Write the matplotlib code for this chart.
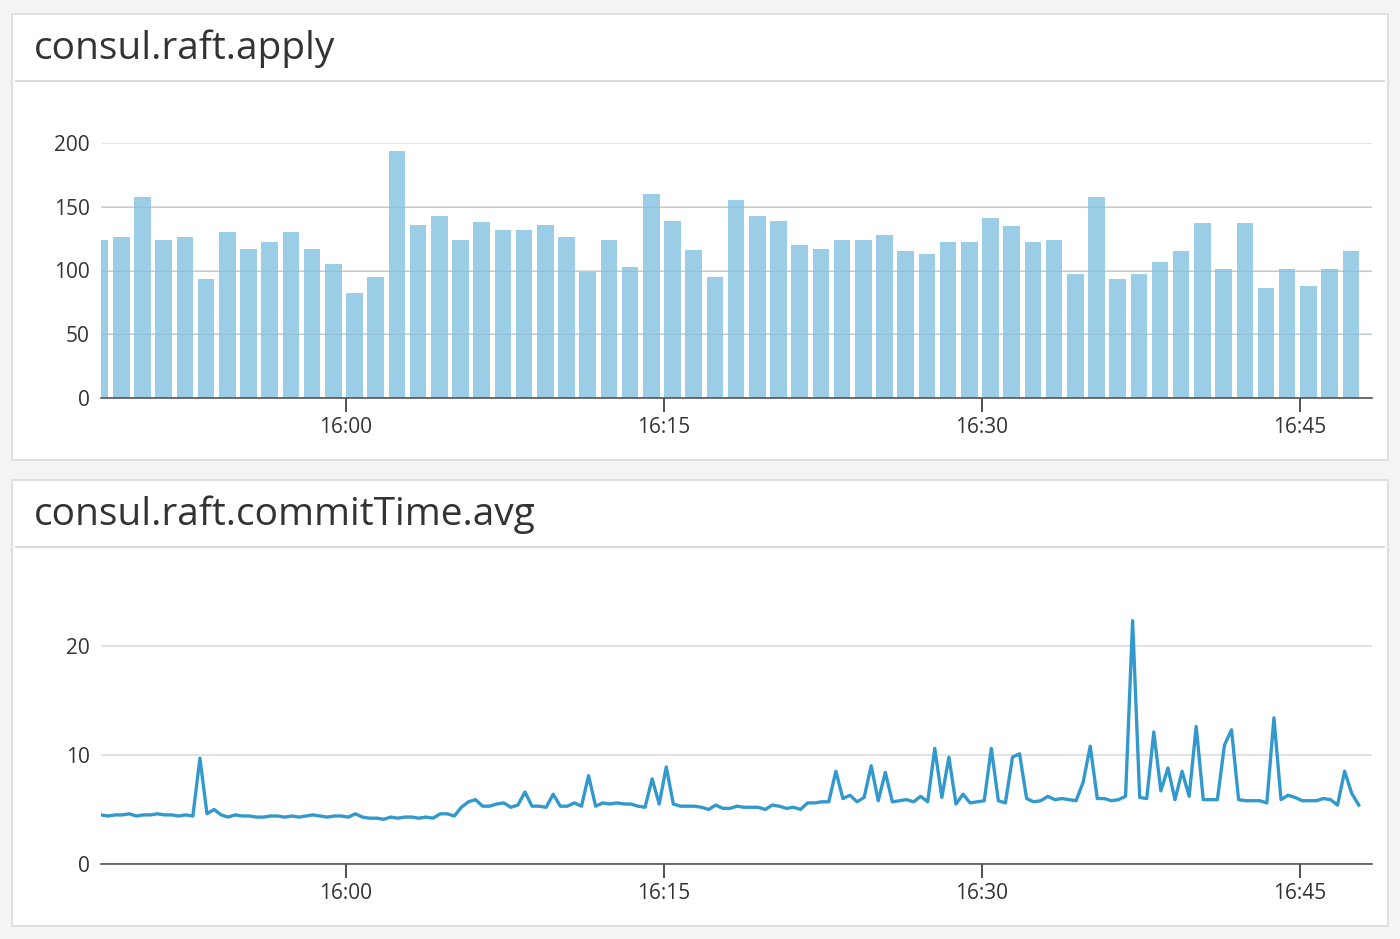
import matplotlib
matplotlib.use("Agg")
import matplotlib.pyplot as plt
from matplotlib.patches import Rectangle
from matplotlib.lines import Line2D
import numpy as np

plt.rcParams['font.family'] = ['Open Sans', 'DejaVu Sans']

titles = ["consul.raft.apply", "consul.raft.commitTime.avg"]
xtick_pos = [0, 15, 30, 45]
xtick_labels = ["16:00", "16:15", "16:30", "16:45"]

# bar chart: one bar per minute, minutes relative to 16:00
apply_start = -11.6
apply_values = [124,126,158,124,126,93,130,117,122,130,117,105,82,95,194,136,143,124,138,132,
                132,136,126,99,124,103,160,139,116,95,155,143,139,120,117,124,124,128,115,113,
                122,122,141,135,122,124,97,158,93,97,107,115,137,101,137,86,101,88,101,115]

# line chart: one point every 20 s
commit_start = -11.56
commit_values = [4.5,4.4,4.5,4.5,4.6,4.4,4.5,4.5,4.6,4.5,4.5,4.4,4.5,4.4,
                 9.7,4.6,5.0,4.5,4.3,4.5,4.4,4.4,4.3,4.3,4.4,4.4,4.3,4.4,4.3,
                 4.4,4.5,4.4,4.3,4.4,4.4,4.3,4.6,4.3,4.2,4.2,4.1,4.3,4.2,4.3,4.3,4.2,4.3,4.2,
                 4.6,4.6,4.4,5.2,5.7,5.9,5.3,5.3,5.5,5.6,5.2,5.4,6.6,5.3,5.3,5.2,6.4,5.3,5.3,
                 5.6,5.3,8.1,5.3,5.6,5.5,5.6,5.5,5.5,5.3,5.2,7.8,5.5,8.9,5.5,5.3,5.3,5.3,5.2,
                 5.0,5.4,5.1,5.1,5.3,5.2,5.2,5.2,5.0,5.4,5.3,5.1,5.2,5.0,5.6,5.6,5.7,5.7,8.5,
                 6.0,6.3,5.7,6.1,9.0,5.8,8.4,5.7,5.8,5.9,5.7,6.2,5.7,10.6,6.1,9.8,5.5,6.4,5.6,
                 5.7,5.8,10.6,5.8,5.6,9.8,10.1,6.0,5.7,5.8,6.2,5.9,6.0,5.9,5.8,7.5,10.8,6.0,
                 6.0,5.8,5.9,6.2,22.3,6.1,6.0,12.1,6.7,8.8,5.9,8.5,6.2,12.6,5.9,5.9,5.9,10.9,
                 12.3,5.9,5.8,5.8,5.8,5.6,13.4,5.9,6.3,6.1,5.8,5.8,5.8,6.0,5.9,5.4,8.5,6.5,5.4]

W, H = 1400, 939
fig = plt.figure(figsize=(14, 9.39), dpi=100)
fig.patch.set_facecolor('#f4f4f4')

def fx(px): return px / W
def fy(py): return 1 - py / H

panels = [(14, 460), (480, 926)]
for (top, bot), title in zip(panels, titles):
    fig.patches.append(Rectangle((fx(12), fy(bot)), fx(1376), (bot - top) / H,
                                 transform=fig.transFigure, facecolor='white',
                                 edgecolor='#e0e0e0', lw=1.5, zorder=-2))
    fig.lines.append(Line2D([fx(16), fx(1384)], [fy(top + 67)] * 2,
                            transform=fig.transFigure, color='#dcdcdc', lw=1.5,
                            zorder=-1))
    fig.text(fx(34), fy(top + 35), title, fontsize=28, color='#333333',
             va='center', ha='left')

def style(ax, ylim, yticks):
    ax.set_xlim(-11.56, 48.4)
    ax.set_ylim(*ylim)
    ax.set_facecolor('none')
    for s in ['top', 'right', 'left']:
        ax.spines[s].set_visible(False)
    ax.spines['bottom'].set_color('#555555')
    ax.spines['bottom'].set_linewidth(1.2)
    ax.set_yticks(yticks)
    ax.set_xticks(xtick_pos)
    ax.set_xticklabels(xtick_labels)
    ax.tick_params(axis='y', length=0, labelsize=15, labelcolor='#333333', pad=8)
    ax.tick_params(axis='x', length=10, width=1.2, color='#333333', labelsize=15,
                   labelcolor='#333333', pad=4)
    ax.grid(axis='y', color='#dddddd', lw=1.2)
    ax.set_axisbelow(True)

# top chart
ax1 = fig.add_axes([fx(101), fy(398), fx(1372 - 101), (398 - 143) / H])
ax1.set_zorder(2)
x1 = apply_start + np.arange(len(apply_values))
ax1.bar(x1, apply_values, width=0.78, color='#9ccde6', zorder=2)
style(ax1, (0, 200), [0, 50, 100, 150, 200])
for g in [50, 100, 150]:
    ax1.axhline(g, color='#7fa6bb', lw=0.8, alpha=0.35, zorder=3)

# bottom chart
ax2 = fig.add_axes([fx(101), fy(864), fx(1372 - 101), (864 - 600) / H])
ax2.set_zorder(2)
x2 = commit_start + np.arange(len(commit_values)) / 3.0
ax2.plot(x2, commit_values, color='#3399cc', lw=2.4, zorder=3)
style(ax2, (0, 24.2), [0, 10, 20])

fig.savefig('out.png', dpi=100, facecolor=fig.get_facecolor())
